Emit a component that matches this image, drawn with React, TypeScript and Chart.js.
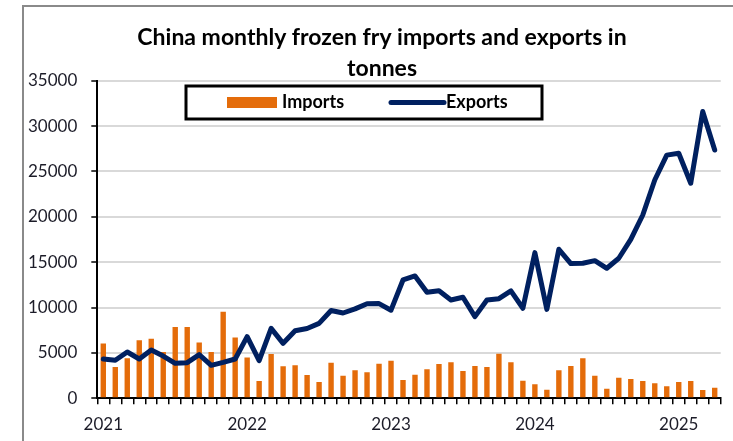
import React, { useEffect, useRef } from 'react';
import { Chart, registerables } from 'chart.js';

Chart.register(...registerables);

const TITLE_LINES = ['China monthly frozen fry imports and exports in', 'tonnes'];

const months = [
  '2021-01', '2021-02', '2021-03', '2021-04', '2021-05', '2021-06', '2021-07', '2021-08', '2021-09', '2021-10', '2021-11', '2021-12',
  '2022-01', '2022-02', '2022-03', '2022-04', '2022-05', '2022-06', '2022-07', '2022-08', '2022-09', '2022-10', '2022-11', '2022-12',
  '2023-01', '2023-02', '2023-03', '2023-04', '2023-05', '2023-06', '2023-07', '2023-08', '2023-09', '2023-10', '2023-11', '2023-12',
  '2024-01', '2024-02', '2024-03', '2024-04', '2024-05', '2024-06', '2024-07', '2024-08', '2024-09', '2024-10', '2024-11', '2024-12',
  '2025-01', '2025-02', '2025-03', '2025-04',
];

const importsTonnes = [
  6050, 3450, 4400, 6400, 6550, 5100, 7850, 7850, 6150, 5100, 9550, 6700,
  4500, 1900, 4880, 3520, 3630, 2570, 1800, 3930, 2490, 3080, 2860, 3820,
  4150, 2020, 2600, 3200, 3780, 3960, 3000, 3560, 3450, 4920, 3960, 1940,
  1540, 950, 3080, 3560, 4410, 2490, 1060, 2270, 2130, 1900, 1650, 1320,
  1800, 1900, 910, 1170,
];

const exportsTonnes = [
  4330, 4190, 5100, 4330, 5320, 4660, 3850, 3930, 4810, 3630, 3960, 4330,
  6790, 4150, 7700, 6060, 7450, 7700, 8260, 9680, 9400, 9850, 10420, 10440,
  9710, 13040, 13480, 11680, 11860, 10830, 11130, 9000, 10830, 10980, 11830, 9920,
  16050, 9800, 16420, 14850, 14880, 15170, 14330, 15430, 17520, 20200, 24060, 26800,
  27000, 23700, 31600, 27360,
];

const IMPORT_COLOR = '#E46C0A';
const EXPORT_COLOR = '#002060';
const TEXT_COLOR = '#1c1c28';
const FONT = 'Lato';

const titlePlugin = {
  id: 'customTitle',
  afterDraw(chart: any) {
    const { ctx } = chart;
    ctx.save();
    ctx.fillStyle = '#000';
    ctx.font = `bold 23px ${FONT}`;
    ctx.textAlign = 'center';
    ctx.textBaseline = 'alphabetic';
    const cx = 382;
    ctx.fillText(TITLE_LINES[0], cx, 45);
    ctx.fillText(TITLE_LINES[1], cx, 76);
    ctx.restore();
  },
};

const legendPlugin = {
  id: 'boxLegend',
  afterDraw(chart: any) {
    const { ctx } = chart;
    const ds = chart.data.datasets;
    ctx.save();
    const x = 186, y = 86, w = 356, h = 33;
    ctx.fillStyle = '#fff';
    ctx.fillRect(x, y, w, h);
    ctx.lineWidth = 3;
    ctx.strokeStyle = '#000';
    ctx.strokeRect(x, y, w, h);
    const cy = y + h / 2;
    ctx.fillStyle = IMPORT_COLOR;
    ctx.fillRect(227, cy - 5.5, 50, 11);
    ctx.fillStyle = '#000';
    ctx.font = `bold 18px ${FONT}`;
    ctx.textBaseline = 'middle';
    ctx.textAlign = 'left';
    ctx.fillText(ds[1].label, 282, cy);
    ctx.strokeStyle = EXPORT_COLOR;
    ctx.lineWidth = 5;
    ctx.lineCap = 'round';
    ctx.beginPath();
    ctx.moveTo(391, cy);
    ctx.lineTo(444, cy);
    ctx.stroke();
    ctx.fillStyle = '#000';
    ctx.fillText(ds[0].label, 446, cy);
    ctx.restore();
  },
};

export default function App() {
  const ref = useRef<HTMLCanvasElement | null>(null);

  useEffect(() => {
    if (!ref.current) return;
    Chart.defaults.font.family = FONT;
    const chart = new Chart(ref.current, {
      type: 'bar',
      data: {
        labels: months,
        datasets: [
          {
            type: 'line',
            label: 'Exports',
            data: exportsTonnes,
            borderColor: EXPORT_COLOR,
            backgroundColor: EXPORT_COLOR,
            borderWidth: 5,
            pointRadius: 0,
            tension: 0,
            borderJoinStyle: 'round',
            borderCapStyle: 'round',
            order: 0,
          } as any,
          {
            type: 'bar',
            label: 'Imports',
            data: importsTonnes,
            backgroundColor: IMPORT_COLOR,
            barPercentage: 0.45,
            categoryPercentage: 1,
            order: 1,
          },
        ],
      },
      options: {
        responsive: false,
        animation: false,
        layout: { padding: { top: 80.7, right: 12.3, left: 0, bottom: 0 } },
        plugins: {
          legend: { display: false },
          title: { display: false },
          tooltip: { enabled: false },
        },
        scales: {
          x: {
            offset: true,
            ticks: {
              autoSkip: false,
              maxRotation: 0,
              minRotation: 0,
              padding: 10,
              color: TEXT_COLOR,
              font: { family: FONT, size: 17 },
              callback: (_v: any, i: number) => (months[i].endsWith('-01') ? months[i].slice(0, 4) : ''),
            },
            grid: {
              offset: true,
              drawOnChartArea: false,
              color: '#000',
              tickLength: 6,
              lineWidth: 1.5,
            },
            border: { color: '#000', width: 2 },
            afterFit: (s: any) => {
              s.height = 42.7;
            },
          },
          y: {
            min: 0,
            max: 35000,
            ticks: {
              stepSize: 5000,
              padding: 14,
              color: TEXT_COLOR,
              font: { family: FONT, size: 17 },
              callback: (v: any) => String(v),
            },
            grid: {
              color: '#d9d9d9',
              lineWidth: 2,
              tickColor: '#000',
              tickLength: 6,
              tickWidth: 1.5,
            } as any,
            border: { color: '#000', width: 2 },
            afterFit: (s: any) => {
              s.width = 97.3;
            },
          },
        },
      },
      plugins: [titlePlugin, legendPlugin],
    });
    return () => chart.destroy();
  }, []);

  return (
    <div style={{ position: 'fixed', left: 0, top: 0, width: 733, height: 441, background: '#fff', overflow: 'hidden' }}>
      <div
        style={{
          position: 'absolute',
          left: 22,
          top: 5,
          width: 900,
          height: 600,
          borderLeft: '2px solid #8a8a8a',
          borderTop: '2px solid #8a8a8a',
        }}
      />
      <canvas ref={ref} width={733} height={441} style={{ position: 'absolute', left: 0, top: 0 }} />
    </div>
  );
}
